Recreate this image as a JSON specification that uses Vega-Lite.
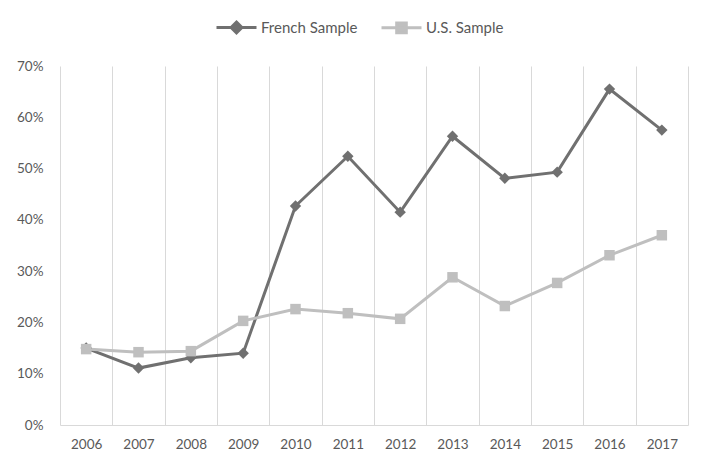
{
  "$schema": "https://vega.github.io/schema/vega-lite/v6.json",
  "width": 628,
  "height": 359,
  "autosize": "none",
  "padding": {"left": 60, "top": 66, "right": 23, "bottom": 44},
  "background": "white",
  "config": {
    "font": "Lato",
    "view": {"stroke": null},
    "axis": {"labelColor": "#595959", "labelFontSize": 13.5, "labelFont": "Lato"}
  },
  "data": {
    "values": [
      {"year": "2006", "series": "French Sample", "value": 0.150},
      {"year": "2007", "series": "French Sample", "value": 0.111},
      {"year": "2008", "series": "French Sample", "value": 0.131},
      {"year": "2009", "series": "French Sample", "value": 0.140},
      {"year": "2010", "series": "French Sample", "value": 0.427},
      {"year": "2011", "series": "French Sample", "value": 0.524},
      {"year": "2012", "series": "French Sample", "value": 0.415},
      {"year": "2013", "series": "French Sample", "value": 0.563},
      {"year": "2014", "series": "French Sample", "value": 0.481},
      {"year": "2015", "series": "French Sample", "value": 0.493},
      {"year": "2016", "series": "French Sample", "value": 0.655},
      {"year": "2017", "series": "French Sample", "value": 0.575},
      {"year": "2006", "series": "U.S. Sample", "value": 0.148},
      {"year": "2007", "series": "U.S. Sample", "value": 0.142},
      {"year": "2008", "series": "U.S. Sample", "value": 0.144},
      {"year": "2009", "series": "U.S. Sample", "value": 0.203},
      {"year": "2010", "series": "U.S. Sample", "value": 0.226},
      {"year": "2011", "series": "U.S. Sample", "value": 0.218},
      {"year": "2012", "series": "U.S. Sample", "value": 0.207},
      {"year": "2013", "series": "U.S. Sample", "value": 0.288},
      {"year": "2014", "series": "U.S. Sample", "value": 0.232},
      {"year": "2015", "series": "U.S. Sample", "value": 0.277},
      {"year": "2016", "series": "U.S. Sample", "value": 0.331},
      {"year": "2017", "series": "U.S. Sample", "value": 0.370}
    ]
  },
  "encoding": {
    "x": {
      "field": "year",
      "type": "ordinal",
      "bandPosition": 0.5,
      "scale": {"type": "band", "paddingInner": 0, "paddingOuter": 0},
      "axis": {
        "title": null,
        "labelAngle": 0,
        "tickBand": "extent",
        "ticks": false,
        "grid": true,
        "gridColor": "#d9d9d9",
        "gridWidth": 1,
        "domainColor": "#d9d9d9",
        "domainWidth": 1,
        "labelPadding": 12
      }
    },
    "y": {
      "field": "value",
      "type": "quantitative",
      "scale": {"domain": [0, 0.7], "nice": false},
      "axis": {
        "title": null,
        "format": ".0%",
        "values": [0, 0.1, 0.2, 0.3, 0.4, 0.5, 0.6, 0.7],
        "grid": false,
        "domain": false,
        "ticks": false,
        "labelPadding": 17
      }
    },
    "color": {
      "field": "series",
      "type": "nominal",
      "scale": {"domain": ["French Sample", "U.S. Sample"], "range": ["#707070", "#bfbfbf"]},
      "legend": {
        "title": null,
        "orient": "none",
        "direction": "horizontal",
        "legendX": 155,
        "legendY": -60,
        "symbolSize": 1600,
        "symbolStrokeWidth": 3,
        "labelFontSize": 15,
        "labelColor": "#595959",
        "labelOffset": 3,
        "columnPadding": 17,
        "encode": {
          "symbols": {
            "update": {
              "shape": {"signal": "datum.value === 'French Sample' ? 'M-1,0H1M0,-0.27L0.27,0L0,0.27L-0.27,0Z' : 'M-1,0H1M-0.24,-0.24H0.24V0.24H-0.24Z'"},
              "size": {"value": 1600},
              "fill": {"scale": "color", "field": "value"},
              "stroke": {"scale": "color", "field": "value"},
              "strokeWidth": {"value": 3},
              "opacity": {"value": 1}
            }
          }
        }
      }
    }
  },
  "layer": [
    {"mark": {"type": "line", "strokeWidth": 3}},
    {
      "transform": [{"filter": "datum.series === 'French Sample'"}],
      "mark": {"type": "point", "filled": true, "opacity": 1, "shape": "diamond", "size": 130}
    },
    {
      "transform": [{"filter": "datum.series === 'U.S. Sample'"}],
      "mark": {"type": "point", "filled": true, "opacity": 1, "shape": "square", "size": 110}
    }
  ]
}
